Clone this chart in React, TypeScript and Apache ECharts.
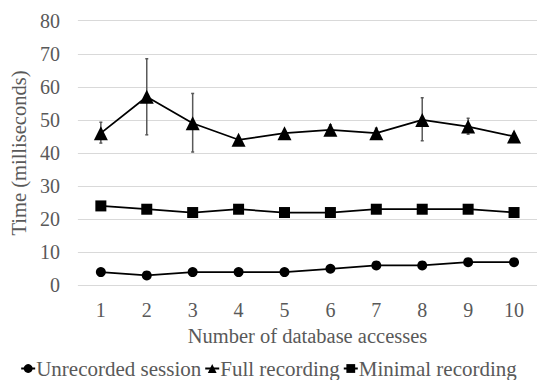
import React, { useEffect, useRef } from "react";
import * as echarts from "echarts";

const categories = ["1", "2", "3", "4", "5", "6", "7", "8", "9", "10"];
const unrecorded = [4, 3, 4, 4, 4, 5, 6, 6, 7, 7];
const fullRecording = [46, 57, 49, 44, 46, 47, 46, 50, 48, 45];
const fullErrLow = [43, 45.5, 40.3, 43.5, 45.5, 45.5, 44.5, 43.7, 45.7, 44.5];
const fullErrHigh = [49.3, 68.5, 58, 44.5, 46.5, 48.5, 47.5, 56.7, 50.5, 45.5];
const minimal = [24, 23, 22, 23, 22, 22, 23, 23, 23, 22];
const yTicks = [0, 10, 20, 30, 40, 50, 60, 70, 80];

const FONT = "Liberation Serif";
const TXT = "#595959";

export default function App() {
  const ref = useRef<HTMLDivElement>(null);
  useEffect(() => {
    if (!ref.current) return;
    const chart = echarts.init(ref.current, undefined, { renderer: "svg" });
    const errData = categories.map((_, i) => [i, fullErrLow[i], fullErrHigh[i]]);
    chart.setOption({
      animation: false,
      textStyle: { fontFamily: FONT },
      grid: { left: 71, right: -3, top: 20.7, bottom: 94.7, containLabel: false },
      legend: {
        data: ["Unrecorded session", "Full recording", "Minimal recording"],
        bottom: -4,
        left: "center",
        itemWidth: 14,
        itemHeight: 11,
        itemGap: 3,
        textStyle: { fontFamily: FONT, fontSize: 21, color: TXT, padding: [0, 0, 0, -4] },
      },
      xAxis: {
        type: "category",
        data: categories,
        boundaryGap: true,
        name: "Number of database accesses",
        nameLocation: "middle",
        nameGap: 40,
        nameTextStyle: { fontFamily: FONT, fontSize: 20.5, color: TXT },
        axisLine: { show: false },
        axisTick: { show: false },
        axisLabel: { fontFamily: FONT, fontSize: 20, color: TXT, margin: 15 },
      },
      yAxis: {
        type: "value",
        min: 0,
        max: 80,
        interval: 10,
        name: "Time (milliseconds)",
        nameLocation: "middle",
        nameGap: 47,
        nameTextStyle: { fontFamily: FONT, fontSize: 20.5, color: TXT },
        axisLine: { show: false },
        axisTick: { show: false },
        axisLabel: {
          fontFamily: FONT,
          fontSize: 20,
          color: TXT,
          margin: 18,
          formatter: (v: number) => (yTicks.includes(v) ? String(v) : ""),
        },
        splitLine: { lineStyle: { color: "#d9d9d9", width: 1 } },
      },
      series: [
        {
          name: "Full recording error",
          type: "custom",
          z: 1,
          data: errData,
          renderItem: (params: any, api: any) => {
            const x = api.value(0);
            const lo = api.coord([x, api.value(1)]);
            const hi = api.coord([x, api.value(2)]);
            const cap = 1.5;
            const style = { stroke: "#595959", lineWidth: 1.5 };
            return {
              type: "group",
              children: [
                { type: "line", shape: { x1: lo[0], y1: lo[1], x2: hi[0], y2: hi[1] }, style },
                { type: "line", shape: { x1: lo[0] - cap, y1: lo[1], x2: lo[0] + cap, y2: lo[1] }, style },
                { type: "line", shape: { x1: hi[0] - cap, y1: hi[1], x2: hi[0] + cap, y2: hi[1] }, style },
              ],
            };
          },
        },
        {
          name: "Unrecorded session",
          type: "line",
          data: unrecorded,
          symbol: "circle",
          symbolSize: 10,
          z: 3,
          lineStyle: { color: "#000", width: 1.75 },
          itemStyle: { color: "#000" },
        },
        {
          name: "Full recording",
          type: "line",
          data: fullRecording,
          symbol: "triangle",
          symbolSize: 14,
          z: 3,
          lineStyle: { color: "#000", width: 1.75 },
          itemStyle: { color: "#000" },
        },
        {
          name: "Minimal recording",
          type: "line",
          data: minimal,
          symbol: "rect",
          symbolSize: 11,
          z: 3,
          lineStyle: { color: "#000", width: 1.75 },
          itemStyle: { color: "#000" },
        },
      ],
    });
    return () => chart.dispose();
  }, []);
  return <div ref={ref} style={{ width: 537, height: 380, position: "absolute", left: 0, top: 0 }} />;
}
